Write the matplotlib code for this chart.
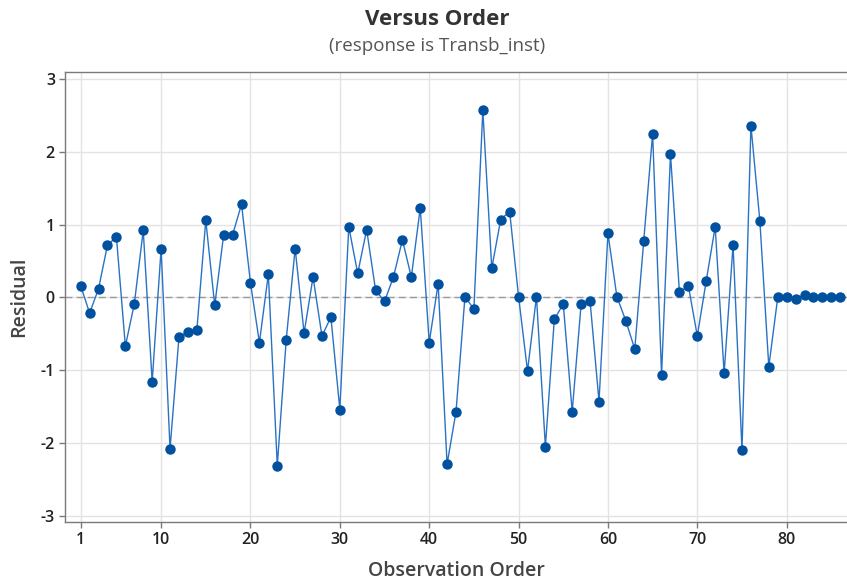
import matplotlib
matplotlib.use("Agg")
import matplotlib.pyplot as plt

order = list(range(1, 87))
residual = [
    0.16, -0.215, 0.12, 0.72, 0.83, -0.67, -0.09, 0.92, -1.16, 0.67,
    -2.08, -0.545, -0.48, -0.45, 1.06, -0.11, 0.86, 0.86, 1.28, 0.20,
    -0.62, 0.32, -2.31, -0.58, 0.67, -0.49, 0.28, -0.53, -0.27, -1.54,
    0.97, 0.33, 0.93, 0.10, -0.055, 0.28, 0.79, 0.28, 1.23, -0.62,
    0.19, -2.29, -1.57, 0.01, -0.16, 2.57, 0.40, 1.07, 1.18, 0.01,
    -1.01, 0.01, -2.05, -0.30, -0.09, -1.57, -0.09, -0.05, -1.43, 0.88,
    0.01, -0.32, -0.71, 0.77, 2.25, -1.06, 1.97, 0.07, 0.16, -0.53,
    0.23, 0.97, -1.04, 0.72, -2.10, 2.36, 1.05, -0.95, 0.0, 0.0,
    -0.02, 0.03, 0.01, 0.0, 0.0, 0.0,
]
xticks = [1, 10, 20, 30, 40, 50, 60, 70, 80]
yticks = [-3, -2, -1, 0, 1, 2, 3]

plt.rcParams['font.family'] = ['Open Sans', 'DejaVu Sans']
plt.rcParams['axes.unicode_minus'] = False

fig = plt.figure(figsize=(8.47, 5.8), dpi=100)
ax = fig.add_axes([0.0771, 0.1005, 0.9229, 0.7759])

ax.axhline(0, color='#9a9a9a', lw=1.0, ls=(0, (5, 3)), zorder=1)
ax.plot(order, residual, color='#2a72c4', lw=1.0, marker='o', markersize=6.5,
        markerfacecolor='#0050a0', markeredgecolor='#0050a0', zorder=3)

ax.set_xlim(-0.72, 86.75)
ax.set_ylim(-3.08, 3.10)
ax.set_xticks(xticks)
ax.set_yticks(yticks)
ax.grid(True, color='#e3e3e3', lw=1.0)
ax.set_axisbelow(True)

for s in ['left', 'bottom', 'top']:
    ax.spines[s].set_color('#7a7a7a')
    ax.spines[s].set_linewidth(1.0)
ax.spines['right'].set_visible(False)

ax.tick_params(axis='both', direction='out', length=4, width=1, color='#7a7a7a',
               labelsize=11.5, labelcolor='#222222')
for lab in ax.get_xticklabels() + ax.get_yticklabels():
    lab.set_fontweight('semibold')

ax.set_xlabel('Observation Order', fontsize=14, color='#444444', fontweight='semibold', labelpad=9)
ax.set_ylabel('Residual', fontsize=14, color='#444444', fontweight='semibold', labelpad=8)

fig.text(0.516, 0.967, 'Versus Order', ha='center', va='center', fontsize=16,
         fontweight='bold', color='#333333')
fig.text(0.516, 0.921, '(response is Transb_inst)', ha='center', va='center',
         fontsize=13.5, color='#555555')

fig.savefig('out.png', dpi=100)
